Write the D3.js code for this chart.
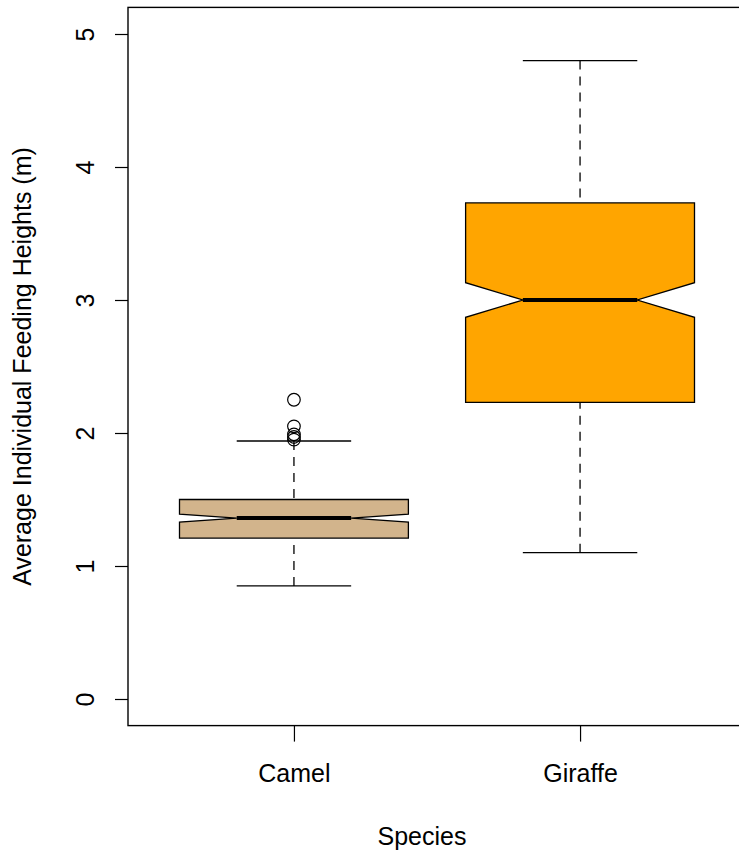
<!DOCTYPE html>
<html><head><meta charset="utf-8">
<script src="https://cdn.jsdelivr.net/npm/d3@7"></script>
<style>body{margin:0;background:#fff;overflow:hidden}svg{display:block}text{font-family:"Liberation Sans",Arial,Helvetica,sans-serif;fill:#000}</style>
</head><body><svg id="c" width="739" height="855"></svg>
<script>
const categories = ["Camel", "Giraffe"];
const whiskerLow = [0.85, 1.10];
const q1 = [1.21, 2.23];
const median = [1.36, 3.00];
const q3 = [1.50, 3.73];
const whiskerHigh = [1.94, 4.80];
const notchLow = [1.33, 2.87];
const notchHigh = [1.39, 3.13];
const outliers = [[2.25, 2.05, 1.99, 1.97, 1.95], []];
const fills = ["#D2B48C", "#FFA500"];
const yTicks = [0, 1, 2, 3, 4, 5];
const xTitle = "Species";
const yTitle = "Average Individual Feeding Heights (m)";

const svg = d3.select("#c");
const x = d3.scaleLinear().domain([0.42, 2.58]).range([128, 746]);
const y = d3.scaleLinear().domain([0, 5]).range([699, 34]);
const bw = 0.4, nw = 0.2;
const fs = 25;

// frame
svg.append("rect").attr("x", x(0.42)).attr("y", y(5.2)).attr("width", x(2.58) - x(0.42)).attr("height", y(-0.2) - y(5.2))
  .attr("fill", "none").attr("stroke", "#000").attr("stroke-width", 1.4);

// y axis
const ya = svg.append("g").attr("transform", `translate(${x(0.42)},0)`)
  .call(d3.axisLeft(y).tickValues(yTicks).tickSize(13).tickSizeOuter(0).tickFormat(d3.format("d")));
ya.select(".domain").remove();
ya.selectAll(".tick line").attr("stroke", "#000").attr("stroke-width", 1.2);
ya.selectAll(".tick text").attr("x", 0).attr("dy", null).attr("text-anchor", "middle")
  .attr("dominant-baseline", "central").attr("font-size", fs)
  .attr("transform", "translate(-43,0) rotate(-90)");

// x axis
const xa = svg.append("g").attr("transform", `translate(0,${y(-0.2)})`)
  .call(d3.axisBottom(x).tickValues([1, 2]).tickSize(16).tickSizeOuter(0).tickFormat((d, i) => categories[i]));
xa.select(".domain").remove();
xa.selectAll(".tick line").attr("stroke", "#000").attr("stroke-width", 1.2);
xa.selectAll(".tick text").attr("y", 47).attr("dy", null).attr("dominant-baseline", "central").attr("font-size", fs);

// titles
svg.append("text").attr("x", 422).attr("y", 836).attr("text-anchor", "middle")
  .attr("dominant-baseline", "central").attr("font-size", fs).text(xTitle);
svg.append("text").attr("transform", `translate(22,${y(2.5)}) rotate(-90)`).attr("text-anchor", "middle")
  .attr("dominant-baseline", "central").attr("font-size", fs).text(yTitle);

categories.forEach((c, i) => {
  const cx = i + 1;
  const g = svg.append("g");
  g.append("line").attr("x1", x(cx)).attr("x2", x(cx)).attr("y1", y(whiskerLow[i])).attr("y2", y(q1[i]))
    .attr("stroke", "#000").attr("stroke-width", 1.3).attr("stroke-dasharray", "9,7");
  g.append("line").attr("x1", x(cx)).attr("x2", x(cx)).attr("y1", y(whiskerHigh[i])).attr("y2", y(q3[i]))
    .attr("stroke", "#000").attr("stroke-width", 1.3).attr("stroke-dasharray", "9,7");
  [whiskerLow[i], whiskerHigh[i]].forEach(v => {
    g.append("line").attr("x1", x(cx - nw)).attr("x2", x(cx + nw)).attr("y1", y(v)).attr("y2", y(v))
      .attr("stroke", "#000").attr("stroke-width", 1.3);
  });
  const pts = [
    [cx - bw, q1[i]], [cx - bw, notchLow[i]], [cx - nw, median[i]], [cx - bw, notchHigh[i]],
    [cx - bw, q3[i]], [cx + bw, q3[i]], [cx + bw, notchHigh[i]], [cx + nw, median[i]],
    [cx + bw, notchLow[i]], [cx + bw, q1[i]]
  ];
  g.append("path").attr("d", d3.line().x(d => x(d[0])).y(d => y(d[1]))(pts) + "Z")
    .attr("fill", fills[i]).attr("stroke", "#000").attr("stroke-width", 1.3).attr("stroke-linejoin", "miter");
  g.append("line").attr("x1", x(cx - nw)).attr("x2", x(cx + nw)).attr("y1", y(median[i])).attr("y2", y(median[i]))
    .attr("stroke", "#000").attr("stroke-width", 4);
  g.selectAll("circle").data(outliers[i]).join("circle")
    .attr("cx", x(cx)).attr("cy", d => y(d)).attr("r", 6.3)
    .attr("fill", "none").attr("stroke", "#000").attr("stroke-width", 1.2);
});
</script></body></html>
